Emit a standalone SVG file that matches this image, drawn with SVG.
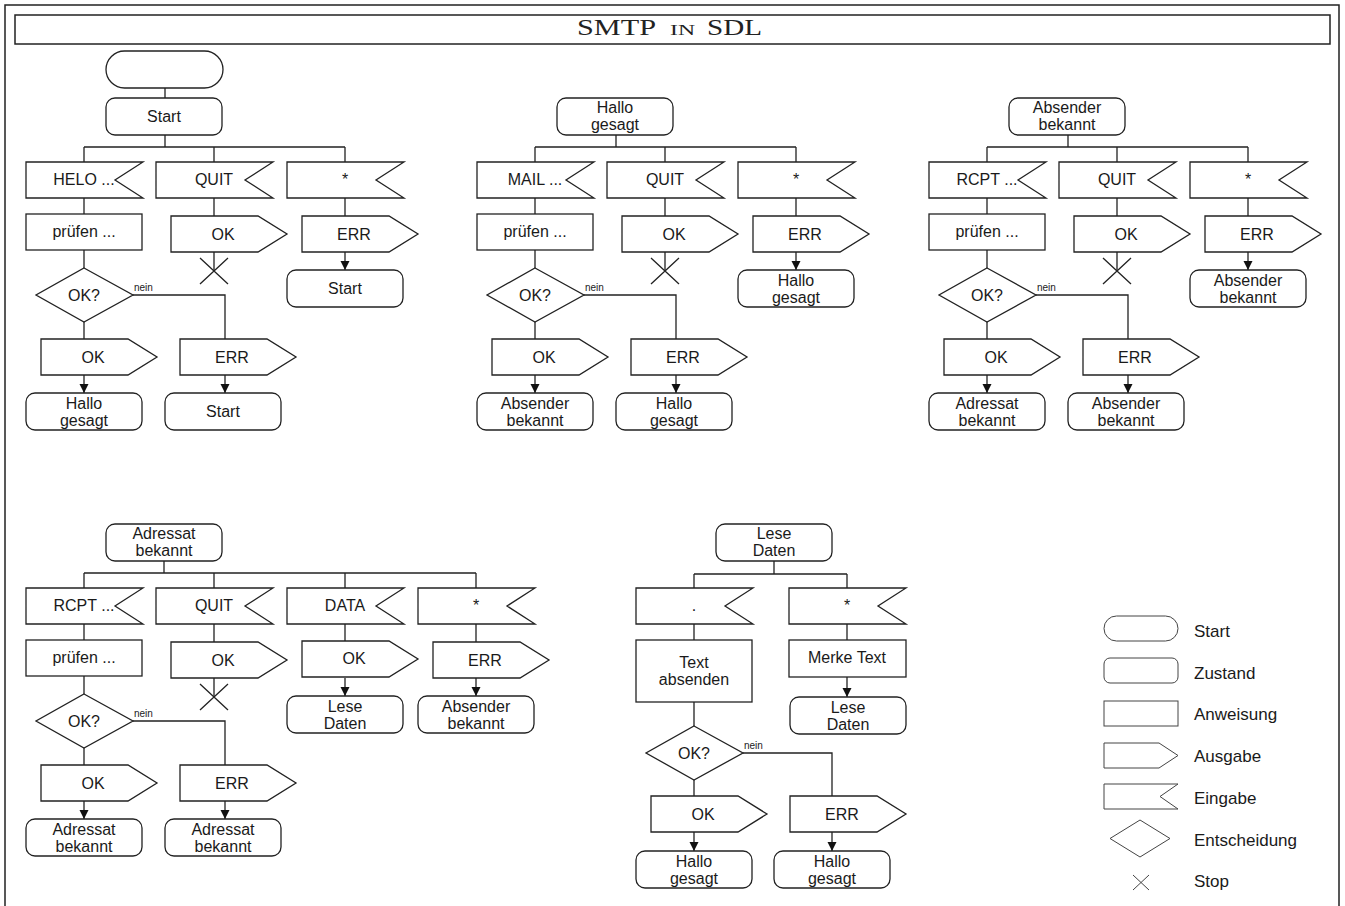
<svg xmlns="http://www.w3.org/2000/svg" xmlns:xlink="http://www.w3.org/1999/xlink" width="1345" height="906" viewBox="0 0 1345 906">
<style>
.sh{fill:#fff;stroke:#222;stroke-width:1.3}
.t{font-family:"Liberation Sans",Arial,sans-serif;font-size:16px;fill:#1a1a1a;text-anchor:middle}
.n{font-family:"Liberation Sans",Arial,sans-serif;font-size:10px;fill:#1a1a1a}
.c{fill:none;stroke:#222;stroke-width:1.3}
.a{fill:none;stroke:#222;stroke-width:1.3;marker-end:url(#arr)}
.lg{fill:#fff;stroke:#444;stroke-width:1}
.lt{font-family:"Liberation Sans",Arial,sans-serif;font-size:17px;fill:#1a1a1a}
.fr{fill:none;stroke:#222;stroke-width:1.5}
</style>
<defs>
<marker id="arr" markerUnits="userSpaceOnUse" markerWidth="10" markerHeight="10" refX="9" refY="5" orient="auto"><path d="M0,0.5L9,5L0,9.5Z" fill="#111"/></marker>
<rect id="st" width="116" height="37" rx="9"/>
<path id="in" d="M0,0H117L89,18L117,36H0Z"/>
<path id="out" d="M0,0H87L116,18L87,36H0Z"/>
<rect id="task" width="116" height="36"/>
<path id="dec" d="M48,0L97,27L48,54L0,27Z"/>
</defs>
<rect width="1345" height="906" fill="#fff"/>
<g id="frame">
<path class="fr" d="M5,906V5H1339V906"/>
<rect class="fr" x="15" y="15" width="1315" height="29"/>
<text font-family="'Liberation Serif','Times New Roman',serif" font-size="23" fill="#222" y="35"><tspan x="577" textLength="79" lengthAdjust="spacingAndGlyphs">SMTP</tspan><tspan x="670" font-size="15" textLength="25" lengthAdjust="spacingAndGlyphs">IN</tspan><tspan x="707" textLength="55" lengthAdjust="spacingAndGlyphs">SDL</tspan></text>
</g>

<g id="connectors">
<!-- block 1 -->
<path class="c" d="M165,88V98M165,134V147M84,147H345M84,147V162M214,147V162M345,147V162M84,198V214M84,250V268M84,322V339M133,295H225V339M214,198V216M214,252V271M345,198V216"/>
<path class="a" d="M84,375V393"/><path class="a" d="M225,375V393"/><path class="a" d="M345,252V270"/>
<!-- block 2 -->
<path class="c" d="M616,134V147M535,147H796M535,147V162M665,147V162M796,147V162M535,198V214M535,250V268M535,322V339M584,295H676V339M665,198V216M665,252V271M796,198V216"/>
<path class="a" d="M535,375V393"/><path class="a" d="M676,375V393"/><path class="a" d="M796,252V270"/>
<!-- block 3 -->
<path class="c" d="M1068,134V147M987,147H1248M987,147V162M1117,147V162M1248,147V162M987,198V214M987,250V268M987,322V339M1036,295H1128V339M1117,198V216M1117,252V271M1248,198V216"/>
<path class="a" d="M987,375V393"/><path class="a" d="M1128,375V393"/><path class="a" d="M1248,252V270"/>
<!-- block 4 -->
<path class="c" d="M164,561V573M84,573H476M84,573V588M214,573V588M345,573V588M476,573V588M84,624V640M84,676V694M84,748V765M133,721H225V765M214,624V642M214,678V697M345,624V642M476,624V642"/>
<path class="a" d="M84,801V819"/><path class="a" d="M225,801V819"/><path class="a" d="M345,678V696"/><path class="a" d="M476,678V696"/>
<!-- block 5 -->
<path class="c" d="M774,561V574M694,574H847M694,574V588M847,574V588M694,624V640M847,624V640M694,702V726M694,780V796M743,753H832V796"/>
<path class="a" d="M847,677V697"/><path class="a" d="M694,832V851"/><path class="a" d="M832,832V851"/>
<text class="n" x="134" y="291">nein</text>
<text class="n" x="585" y="291">nein</text>
<text class="n" x="1037" y="291">nein</text>
<text class="n" x="134" y="717">nein</text>
<text class="n" x="744" y="749">nein</text>
</g>

<!-- Block 1 -->
<g id="b1-start" transform="translate(106,51)"><rect class="sh" width="117" height="37" rx="18.5"/></g>
<g id="b1-state" transform="translate(106,98)"><use href="#st" class="sh"/><text class="t" x="58" y="24">Start</text></g>
<g id="b1-in1" transform="translate(26,162)"><use href="#in" class="sh"/><text class="t" x="58" y="23">HELO ...</text></g>
<g id="b1-in2" transform="translate(156,162)"><use href="#in" class="sh"/><text class="t" x="58" y="23">QUIT</text></g>
<g id="b1-in3" transform="translate(287,162)"><use href="#in" class="sh"/><text class="t" x="58" y="23">*</text></g>
<g id="b1-task" transform="translate(26,214)"><use href="#task" class="sh"/><text class="t" x="58" y="23">prüfen ...</text></g>
<g id="b1-dec" transform="translate(36,268)"><use href="#dec" class="sh"/><text class="t" x="48" y="33">OK?</text></g>
<g id="b1-ok" transform="translate(41,339)"><use href="#out" class="sh"/><text class="t" x="52" y="24">OK</text></g>
<g id="b1-err" transform="translate(180,339)"><use href="#out" class="sh"/><text class="t" x="52" y="24">ERR</text></g>
<g id="b1-okst" transform="translate(26,393)"><use href="#st" class="sh"/><text class="t" x="58" y="16">Hallo</text><text class="t" x="58" y="33">gesagt</text></g>
<g id="b1-errst" transform="translate(165,393)"><use href="#st" class="sh"/><text class="t" x="58" y="24">Start</text></g>
<g id="b1-qok" transform="translate(171,216)"><use href="#out" class="sh"/><text class="t" x="52" y="24">OK</text></g>
<g id="b1-stop"><path class="c" d="M200,258L228,284M228,258L200,284"/></g>
<g id="b1-serr" transform="translate(302,216)"><use href="#out" class="sh"/><text class="t" x="52" y="24">ERR</text></g>
<g id="b1-sst" transform="translate(287,270)"><use href="#st" class="sh"/><text class="t" x="58" y="24">Start</text></g>

<!-- Block 2 -->
<g id="b2-state" transform="translate(557,98)"><use href="#st" class="sh"/><text class="t" x="58" y="15">Hallo</text><text class="t" x="58" y="32">gesagt</text></g>
<g id="b2-in1" transform="translate(477,162)"><use href="#in" class="sh"/><text class="t" x="58" y="23">MAIL ...</text></g>
<g id="b2-in2" transform="translate(607,162)"><use href="#in" class="sh"/><text class="t" x="58" y="23">QUIT</text></g>
<g id="b2-in3" transform="translate(738,162)"><use href="#in" class="sh"/><text class="t" x="58" y="23">*</text></g>
<g id="b2-task" transform="translate(477,214)"><use href="#task" class="sh"/><text class="t" x="58" y="23">prüfen ...</text></g>
<g id="b2-dec" transform="translate(487,268)"><use href="#dec" class="sh"/><text class="t" x="48" y="33">OK?</text></g>
<g id="b2-ok" transform="translate(492,339)"><use href="#out" class="sh"/><text class="t" x="52" y="24">OK</text></g>
<g id="b2-err" transform="translate(631,339)"><use href="#out" class="sh"/><text class="t" x="52" y="24">ERR</text></g>
<g id="b2-okst" transform="translate(477,393)"><use href="#st" class="sh"/><text class="t" x="58" y="16">Absender</text><text class="t" x="58" y="33">bekannt</text></g>
<g id="b2-errst" transform="translate(616,393)"><use href="#st" class="sh"/><text class="t" x="58" y="16">Hallo</text><text class="t" x="58" y="33">gesagt</text></g>
<g id="b2-qok" transform="translate(622,216)"><use href="#out" class="sh"/><text class="t" x="52" y="24">OK</text></g>
<g id="b2-stop"><path class="c" d="M651,258L679,284M679,258L651,284"/></g>
<g id="b2-serr" transform="translate(753,216)"><use href="#out" class="sh"/><text class="t" x="52" y="24">ERR</text></g>
<g id="b2-sst" transform="translate(738,270)"><use href="#st" class="sh"/><text class="t" x="58" y="16">Hallo</text><text class="t" x="58" y="33">gesagt</text></g>

<!-- Block 3 -->
<g id="b3-state" transform="translate(1009,98)"><use href="#st" class="sh"/><text class="t" x="58" y="15">Absender</text><text class="t" x="58" y="32">bekannt</text></g>
<g id="b3-in1" transform="translate(929,162)"><use href="#in" class="sh"/><text class="t" x="58" y="23">RCPT ...</text></g>
<g id="b3-in2" transform="translate(1059,162)"><use href="#in" class="sh"/><text class="t" x="58" y="23">QUIT</text></g>
<g id="b3-in3" transform="translate(1190,162)"><use href="#in" class="sh"/><text class="t" x="58" y="23">*</text></g>
<g id="b3-task" transform="translate(929,214)"><use href="#task" class="sh"/><text class="t" x="58" y="23">prüfen ...</text></g>
<g id="b3-dec" transform="translate(939,268)"><use href="#dec" class="sh"/><text class="t" x="48" y="33">OK?</text></g>
<g id="b3-ok" transform="translate(944,339)"><use href="#out" class="sh"/><text class="t" x="52" y="24">OK</text></g>
<g id="b3-err" transform="translate(1083,339)"><use href="#out" class="sh"/><text class="t" x="52" y="24">ERR</text></g>
<g id="b3-okst" transform="translate(929,393)"><use href="#st" class="sh"/><text class="t" x="58" y="16">Adressat</text><text class="t" x="58" y="33">bekannt</text></g>
<g id="b3-errst" transform="translate(1068,393)"><use href="#st" class="sh"/><text class="t" x="58" y="16">Absender</text><text class="t" x="58" y="33">bekannt</text></g>
<g id="b3-qok" transform="translate(1074,216)"><use href="#out" class="sh"/><text class="t" x="52" y="24">OK</text></g>
<g id="b3-stop"><path class="c" d="M1103,258L1131,284M1131,258L1103,284"/></g>
<g id="b3-serr" transform="translate(1205,216)"><use href="#out" class="sh"/><text class="t" x="52" y="24">ERR</text></g>
<g id="b3-sst" transform="translate(1190,270)"><use href="#st" class="sh"/><text class="t" x="58" y="16">Absender</text><text class="t" x="58" y="33">bekannt</text></g>

<!-- Block 4 -->
<g id="b4-state" transform="translate(106,524)"><use href="#st" class="sh"/><text class="t" x="58" y="15">Adressat</text><text class="t" x="58" y="32">bekannt</text></g>
<g id="b4-in1" transform="translate(26,588)"><use href="#in" class="sh"/><text class="t" x="58" y="23">RCPT ...</text></g>
<g id="b4-in2" transform="translate(156,588)"><use href="#in" class="sh"/><text class="t" x="58" y="23">QUIT</text></g>
<g id="b4-in3" transform="translate(287,588)"><use href="#in" class="sh"/><text class="t" x="58" y="23">DATA</text></g>
<g id="b4-in4" transform="translate(418,588)"><use href="#in" class="sh"/><text class="t" x="58" y="23">*</text></g>
<g id="b4-task" transform="translate(26,640)"><use href="#task" class="sh"/><text class="t" x="58" y="23">prüfen ...</text></g>
<g id="b4-dec" transform="translate(36,694)"><use href="#dec" class="sh"/><text class="t" x="48" y="33">OK?</text></g>
<g id="b4-ok" transform="translate(41,765)"><use href="#out" class="sh"/><text class="t" x="52" y="24">OK</text></g>
<g id="b4-err" transform="translate(180,765)"><use href="#out" class="sh"/><text class="t" x="52" y="24">ERR</text></g>
<g id="b4-okst" transform="translate(26,819)"><use href="#st" class="sh"/><text class="t" x="58" y="16">Adressat</text><text class="t" x="58" y="33">bekannt</text></g>
<g id="b4-errst" transform="translate(165,819)"><use href="#st" class="sh"/><text class="t" x="58" y="16">Adressat</text><text class="t" x="58" y="33">bekannt</text></g>
<g id="b4-qok" transform="translate(171,642)"><use href="#out" class="sh"/><text class="t" x="52" y="24">OK</text></g>
<g id="b4-stop"><path class="c" d="M200,684L228,710M228,684L200,710"/></g>
<g id="b4-dok" transform="translate(302,641)"><use href="#out" class="sh"/><text class="t" x="52" y="23">OK</text></g>
<g id="b4-dst" transform="translate(287,696)"><use href="#st" class="sh"/><text class="t" x="58" y="16">Lese</text><text class="t" x="58" y="33">Daten</text></g>
<g id="b4-serr" transform="translate(433,642)"><use href="#out" class="sh"/><text class="t" x="52" y="24">ERR</text></g>
<g id="b4-sst" transform="translate(418,696)"><use href="#st" class="sh"/><text class="t" x="58" y="16">Absender</text><text class="t" x="58" y="33">bekannt</text></g>

<!-- Block 5 -->
<g id="b5-state" transform="translate(716,524)"><use href="#st" class="sh"/><text class="t" x="58" y="15">Lese</text><text class="t" x="58" y="32">Daten</text></g>
<g id="b5-in1" transform="translate(636,588)"><use href="#in" class="sh"/><text class="t" x="58" y="23">.</text></g>
<g id="b5-in2" transform="translate(789,588)"><use href="#in" class="sh"/><text class="t" x="58" y="23">*</text></g>
<g id="b5-task1" transform="translate(636,640)"><rect class="sh" width="116" height="62"/><text class="t" x="58" y="28">Text</text><text class="t" x="58" y="45">absenden</text></g>
<g id="b5-task2" transform="translate(789,640)"><rect class="sh" width="117" height="37"/><text class="t" x="58" y="23">Merke Text</text></g>
<g id="b5-sst" transform="translate(790,697)"><use href="#st" class="sh"/><text class="t" x="58" y="16">Lese</text><text class="t" x="58" y="33">Daten</text></g>
<g id="b5-dec" transform="translate(646,726)"><use href="#dec" class="sh"/><text class="t" x="48" y="33">OK?</text></g>
<g id="b5-ok" transform="translate(651,796)"><use href="#out" class="sh"/><text class="t" x="52" y="24">OK</text></g>
<g id="b5-err" transform="translate(790,796)"><use href="#out" class="sh"/><text class="t" x="52" y="24">ERR</text></g>
<g id="b5-okst" transform="translate(636,851)"><use href="#st" class="sh"/><text class="t" x="58" y="16">Hallo</text><text class="t" x="58" y="33">gesagt</text></g>
<g id="b5-errst" transform="translate(774,851)"><use href="#st" class="sh"/><text class="t" x="58" y="16">Hallo</text><text class="t" x="58" y="33">gesagt</text></g>

<!-- Legend -->
<g id="legend">
<rect class="lg" x="1104" y="616" width="74" height="25" rx="12.5"/>
<text class="lt" x="1194" y="637">Start</text>
<rect class="lg" x="1104" y="658" width="74" height="25" rx="6"/>
<text class="lt" x="1194" y="679">Zustand</text>
<rect class="lg" x="1104" y="701" width="74" height="25"/>
<text class="lt" x="1194" y="720">Anweisung</text>
<path class="lg" d="M1104,743H1159L1178,755.5L1159,768H1104Z"/>
<text class="lt" x="1194" y="762">Ausgabe</text>
<path class="lg" d="M1104,784H1178L1160,796.5L1178,809H1104Z"/>
<text class="lt" x="1194" y="804">Eingabe</text>
<path class="lg" d="M1140,820L1170,838.5L1140,857L1110,838.5Z"/>
<text class="lt" x="1194" y="846">Entscheidung</text>
<path class="lg" d="M1133,875L1149,890M1149,875L1133,890"/>
<text class="lt" x="1194" y="887">Stop</text>
</g>
</svg>
